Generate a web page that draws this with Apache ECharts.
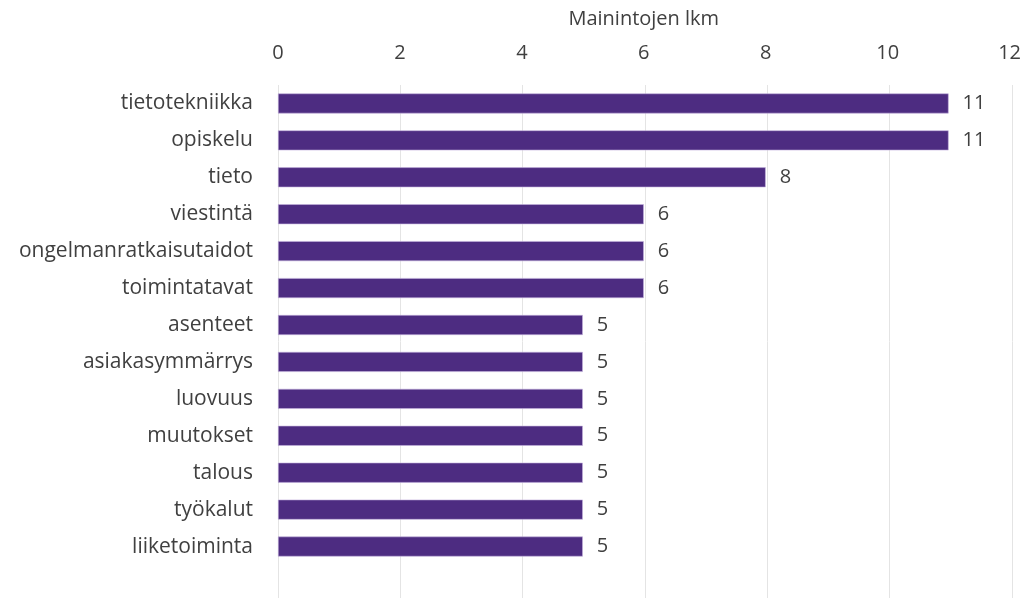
<!DOCTYPE html>
<html><head><meta charset="utf-8">
<script src="https://cdn.jsdelivr.net/npm/echarts@6/dist/echarts.min.js"></script>
<style>html,body{margin:0;padding:0;background:#fff}#c{width:1024px;height:600px}</style>
</head><body><div id="c"></div>
<script>
const categories = ['tietotekniikka','opiskelu','tieto','viestintä','ongelmanratkaisutaidot','toimintatavat','asenteet','asiakasymmärrys','luovuus','muutokset','talous','työkalut','liiketoiminta'];
const values = [11,11,8,6,6,6,5,5,5,5,5,5,5];
const xTicks = [0,2,4,6,8,10,12];
const axisTitle = 'Mainintojen lkm';

const font = '"Open Sans", "Noto Sans", sans-serif';
const txt = '#404040';
const chart = echarts.init(document.getElementById('c'));
chart.setOption({
  animation: false,
  grid: [
    {left: 278, right: 12, top: 85, bottom: 35, containLabel: false},
    {left: 278, right: 12, top: 85, bottom: 2, containLabel: false}
  ],
  xAxis: [{
    type: 'value', position: 'top', gridIndex: 0,
    min: xTicks[0], max: xTicks[xTicks.length-1], interval: 2,
    name: axisTitle, nameLocation: 'middle', nameGap: 56,
    nameTextStyle: {fontFamily: font, fontSize: 20, color: txt},
    axisLine: {show: false}, axisTick: {show: false},
    axisLabel: {fontFamily: font, fontSize: 20, color: txt, margin: 22},
    splitLine: {show: false}
  }, {
    type: 'value', position: 'top', gridIndex: 1,
    min: xTicks[0], max: xTicks[xTicks.length-1], interval: 2,
    axisLine: {show: false}, axisTick: {show: false}, axisLabel: {show: false},
    splitLine: {lineStyle: {color: '#e4e4e4', width: 1}}
  }],
  yAxis: [{
    type: 'category', inverse: true, data: categories, gridIndex: 0,
    axisLine: {show: false}, axisTick: {show: false},
    axisLabel: {fontFamily: font, fontSize: 21, color: txt, margin: 25}
  }, {
    type: 'value', gridIndex: 1, show: false
  }],
  series: [{
    type: 'bar', data: values, barWidth: 20, xAxisIndex: 0, yAxisIndex: 0,
    itemStyle: {color: '#4d2c81', borderColor: '#c4b2dd', borderWidth: 0.6},
    label: {show: true, position: 'right', distance: 14, fontFamily: font, fontSize: 20, color: txt}
  }]
});
</script></body></html>
